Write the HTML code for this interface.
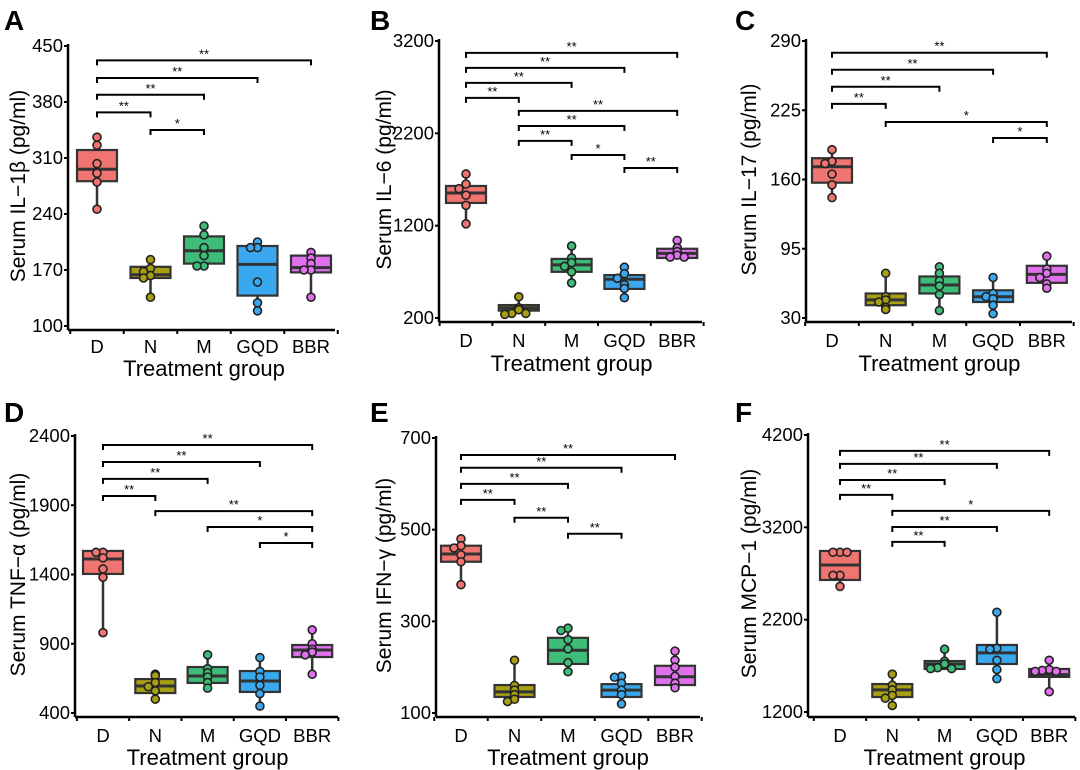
<!DOCTYPE html>
<html><head><meta charset="utf-8">
<style>
html,body{margin:0;padding:0;background:#fff;}
svg{display:block;font-family:"Liberation Sans",Arial,sans-serif;}
</style></head>
<body>
<svg id="fig" width="1080" height="770" viewBox="0 0 1080 770" xmlns="http://www.w3.org/2000/svg"></svg>
<script>
const categories = ["D","N","M","GQD","BBR"];
const colors = ["#f07470","#a89f12","#3dbd78","#3aa8ef","#e070ec"];

// Panel A: IL-1β
const aTicks = [100,170,240,310,380,450];
const aQ1 = [281,160,178,138,167];
const aMed = [296,164,194,177,173];
const aQ3 = [320,174,212,200,188];
const aPts = [[336,326,303,291,280,246],[183,172,168,163,160,136],[225,214,198,188,175,175],[205,198,198,155,129,119],[192,185,178,170,170,136]];
const aBrk = [[0,4,"**",432],[0,3,"**",410],[0,2,"**",389],[0,1,"**",367],[1,2,"*",345]];

// Panel B: IL-6
const bTicks = [200,1200,2200,3200];
const bQ1 = [1446,280,700,515,850];
const bMed = [1554,310,775,620,900];
const bQ3 = [1630,340,840,665,950];
const bPts = [[1760,1650,1600,1530,1420,1220],[430,310,290,250,250,240],[980,850,800,760,700,580],[750,680,630,560,520,420],[1040,960,920,880,860,860]];
const bBrk = [[0,4,"**",3071],[0,3,"**",2909],[0,2,"**",2746],[0,1,"**",2584],[1,4,"**",2443],[1,3,"**",2280],[1,2,"**",2118],[2,3,"*",1966],[3,4,"**",1825]];

// Panel C: IL-17
const cTicks = [30,95,160,225,290];
const cQ1 = [157,42,53,45,63];
const cMed = [172,47,61,50,71];
const cQ3 = [180,53,69,56,79];
const cPts = [[188,177,175,165,155,143],[72,50,47,45,40,38],[78,72,65,60,52,37],[68,53,50,48,42,34],[88,76,72,68,62,58]];
const cBrk = [[0,4,"**",279],[0,3,"**",263],[0,2,"**",247],[0,1,"**",231],[1,4,"*",214],[3,4,"*",199]];

// Panel D: TNF-α
const dTicks = [400,900,1400,1900,2400];
const dQ1 = [1404,544,617,552,804];
const dMed = [1512,595,667,631,855];
const dQ3 = [1570,645,732,703,891];
const dPts = [[1560,1560,1520,1440,1380,980],[680,670,620,590,560,500],[820,720,690,660,620,580],[800,700,660,600,540,450],[1000,900,860,840,820,680]];
const dBrk = [[0,4,"**",2335],[0,3,"**",2212],[0,2,"**",2090],[0,1,"**",1967],[1,4,"**",1858],[2,4,"*",1743],[3,4,"*",1627]];

// Panel E: IFN-γ
const eTicks = [100,300,500,700];
const eQ1 = [430,135,207,135,161];
const eMed = [447,146,237,150,179];
const eQ3 = [465,161,264,163,203];
const ePts = [[480,465,460,445,430,380],[215,160,150,140,130,125],[285,280,260,240,210,190],[180,178,165,150,140,120],[235,215,200,180,165,155]];
const eBrk = [[0,4,"**",663],[0,3,"**",635],[0,2,"**",600],[0,1,"**",565],[1,2,"**",526],[2,3,"**",491]];

// Panel F: MCP-1
const fTicks = [1200,2200,3200,4200];
const fQ1 = [2630,1362,1666,1720,1580];
const fMed = [2792,1440,1720,1840,1605];
const fQ3 = [2944,1503,1752,1926,1666];
const fPts = [[2930,2930,2930,2680,2680,2560],[1610,1490,1440,1380,1350,1270],[1880,1750,1720,1680,1670,1670],[2280,1890,1880,1760,1660,1560],[1760,1660,1650,1640,1640,1420]];
const fBrk = [[0,4,"**",4028],[0,3,"**",3887],[0,2,"**",3713],[0,1,"**",3551],[1,4,"*",3378],[1,3,"**",3204],[1,2,"**",3042]];

const panels = [
 {letter:"A",lx:4,ly:30,ax:68,yTop:46,yBot:326,xAxisY:330,xEnd:335,cx0:97,dx:53.5,ytitle:"Serum IL\u22121\u03b2 (pg/ml)",ticks:aTicks,q1:aQ1,med:aMed,q3:aQ3,pts:aPts,brk:aBrk,catY:353,titleY:376},
 {letter:"B",lx:370,ly:30,ax:439,yTop:41,yBot:318,xAxisY:322,xEnd:702,cx0:466,dx:52.8,ytitle:"Serum IL\u22126 (pg/ml)",ticks:bTicks,q1:bQ1,med:bMed,q3:bQ3,pts:bPts,brk:bBrk,catY:347,titleY:371},
 {letter:"C",lx:735,ly:30,ax:806,yTop:41,yBot:318,xAxisY:322,xEnd:1072,cx0:832,dx:53.7,ytitle:"Serum IL\u221217 (pg/ml)",ticks:cTicks,q1:cQ1,med:cMed,q3:cQ3,pts:cPts,brk:cBrk,catY:347,titleY:371},
 {letter:"D",lx:4,ly:422,ax:75,yTop:436,yBot:713,xAxisY:717,xEnd:338,cx0:103,dx:52.3,ytitle:"Serum TNF\u2212\u03b1 (pg/ml)",ticks:dTicks,q1:dQ1,med:dMed,q3:dQ3,pts:dPts,brk:dBrk,catY:742,titleY:765},
 {letter:"E",lx:370,ly:422,ax:436,yTop:438,yBot:713,xAxisY:717,xEnd:700,cx0:461,dx:53.5,ytitle:"Serum IFN\u2212\u03b3 (pg/ml)",ticks:eTicks,q1:eQ1,med:eMed,q3:eQ3,pts:ePts,brk:eBrk,catY:742,titleY:765},
 {letter:"F",lx:735,ly:422,ax:808,yTop:435,yBot:712,xAxisY:717,xEnd:1075,cx0:840,dx:52.3,ytitle:"Serum MCP\u22121 (pg/ml)",ticks:fTicks,q1:fQ1,med:fMed,q3:fQ3,pts:fPts,brk:fBrk,catY:742,titleY:765}
];

const NS="http://www.w3.org/2000/svg";
const svg=document.getElementById("fig");
function mk(tag,attrs,parent){const e=document.createElementNS(NS,tag);for(const k in attrs)e.setAttribute(k,attrs[k]);(parent||svg).appendChild(e);return e;}

panels.forEach(p=>{
  const g=mk("g",{});
  
  
  const vmin=p.ticks[0], vmax=p.ticks[p.ticks.length-1];
  const y=v=>p.yBot-(v-vmin)/(vmax-vmin)*(p.yBot-p.yTop);
  const x=i=>p.cx0+i*p.dx;
  const hw=20;

  const L=mk("text",{x:p.lx,y:p.ly,"font-size":28,"font-weight":"bold",fill:"#000"},g);
  L.textContent=p.letter;
  
  

  const ya=mk("line",{x1:p.ax,y1:p.yTop-2,x2:p.ax,y2:p.xAxisY,stroke:"#000","stroke-width":2.5},g);
  
  
  p.ticks.forEach(t=>{
    mk("line",{x1:p.ax-4,y1:y(t),x2:p.ax,y2:y(t),stroke:"#000","stroke-width":2},g);
    const tl=mk("text",{x:p.ax-5,y:y(t)+6,"text-anchor":"end","font-size":18.5,fill:"#000"},g);
    tl.textContent=t;
    
    
  });
  const xa=mk("line",{x1:p.ax,y1:p.xAxisY,x2:p.xEnd,y2:p.xAxisY,stroke:"#000","stroke-width":2.5},g);
  
  
  for(let i=0;i<=categories.length;i++){
    const tx=x(i)-p.dx/2;
    mk("line",{x1:tx,y1:p.xAxisY,x2:tx,y2:p.xAxisY+4,stroke:"#000","stroke-width":2},g);
  }
  categories.forEach((c,i)=>{
    const t=mk("text",{x:x(i),y:p.catY,"text-anchor":"middle","font-size":18.5,fill:"#000"},g);
    t.textContent=c;
    
    
  });
  const xt=mk("text",{x:x(2),y:p.titleY,"text-anchor":"middle","font-size":22,fill:"#000"},g);
  xt.textContent="Treatment group";
  
  
  const ymid=(p.yTop+p.yBot)/2;
  const yt=mk("text",{x:p.lx+21,y:ymid,"text-anchor":"middle","font-size":21,fill:"#000",transform:`rotate(-90 ${p.lx+21} ${ymid})`},g);
  yt.textContent=p.ytitle;
  
  

  categories.forEach((c,i)=>{
    const pts=p.pts[i];
    const lo=Math.min(...pts), hi=Math.max(...pts);
    const bg=mk("g",{},g);
    
    
    mk("line",{x1:x(i),y1:y(hi),x2:x(i),y2:y(lo),stroke:"#333","stroke-width":2.5},bg);
    mk("rect",{x:x(i)-hw,y:y(p.q3[i]),width:2*hw,height:Math.max(1,y(p.q1[i])-y(p.q3[i])),fill:colors[i],stroke:"#333","stroke-width":2.2},bg);
    mk("line",{x1:x(i)-hw,y1:y(p.med[i]),x2:x(i)+hw,y2:y(p.med[i]),stroke:"#333","stroke-width":3},bg);
    // spread coincident points horizontally
    const seen={};
    pts.forEach(v=>{
      const k=Math.round(y(v)/6);
      const n=seen[k]||0; seen[k]=n+1;
      const off=n===0?0:(n%2?-1:1)*Math.ceil(n/2)*7;
      const cc=mk("circle",{cx:x(i)+off,cy:y(v),r:4,fill:colors[i],stroke:"#222","stroke-width":1.6},bg);
      
      
    });
  });

  p.brk.forEach(b=>{
    const by=y(b[3]);
    const bb=mk("g",{},g);
    
    
    mk("path",{d:`M${x(b[0])},${by+5}V${by}H${x(b[1])}V${by+5}`,fill:"none",stroke:"#000","stroke-width":2},bb);
    const st=mk("text",{x:(x(b[0])+x(b[1]))/2,y:by-2,"text-anchor":"middle","font-size":13,fill:"#000"},bb);
    st.textContent=b[2];
  });
});
</script>
</body></html>
